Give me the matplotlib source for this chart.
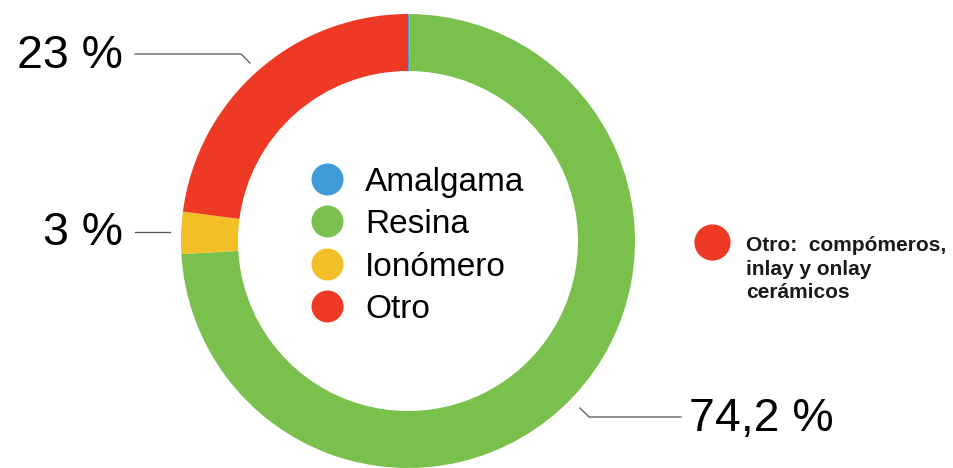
import matplotlib.pyplot as plt

# data
categories = ['Amalgama', 'Resina', 'Ionómero', 'Otro']
values = [0.1, 74.2, 3, 23]
colors = ['#3e9bd8', '#79c14c', '#f2bf26', '#ee3a25']
pct_labels = ['23 %', '3 %', '74,2 %']
note_lines = ['Otro:  compómeros,', 'inlay y onlay', 'cerámicos']

W, H = 954, 468
fig = plt.figure(figsize=(W / 100, H / 100), dpi=100)
ax = fig.add_axes([0, 0, 1, 1])

def py(y):
    # pixel row -> data y
    return H - y

cx, cy, R = 408, 241, 227
ax.pie(values, colors=colors, startangle=90, counterclock=False,
       center=(cx, py(cy)), radius=R,
       wedgeprops=dict(width=57, linewidth=0))

ax.set_xlim(0, W)
ax.set_ylim(0, H)
ax.set_aspect('equal')
ax.axis('off')

font = 'Liberation Sans'

# center legend
for i, (cat, col) in enumerate(zip(categories, colors)):
    yc = 179 + i * 42.3
    ax.scatter([327], [py(yc)], s=530, color=col, zorder=5, linewidths=0)
    ax.text(365, py(yc + 12), cat, fontsize=24, family=font, va='baseline', ha='left')

# leader lines
lc = '#555555'
ax.plot([135, 241, 250], [py(54), py(54), py(63)], color=lc, lw=0.9)
ax.plot([135, 170], [py(232), py(232)], color=lc, lw=0.9)
ax.plot([580, 589, 681], [py(408), py(417), py(417)], color=lc, lw=0.9)

# percentage labels
ax.text(123, py(56), pct_labels[0], fontsize=33.5, family=font, ha='right', va='center')
ax.text(123, py(233), pct_labels[1], fontsize=33.5, family=font, ha='right', va='center')
ax.text(689, py(419), pct_labels[2], fontsize=33.5, family=font, ha='left', va='center')

# side note
ax.scatter([712], [py(242)], s=680, color=colors[3], linewidths=0, zorder=5)
for line, base in zip(note_lines, [251, 275, 298]):
    ax.text(746, py(base), line, fontsize=15, family=font, fontweight='bold',
            ha='left', va='baseline', color='#1a1a1a')

fig.savefig('out.png', dpi=100)
